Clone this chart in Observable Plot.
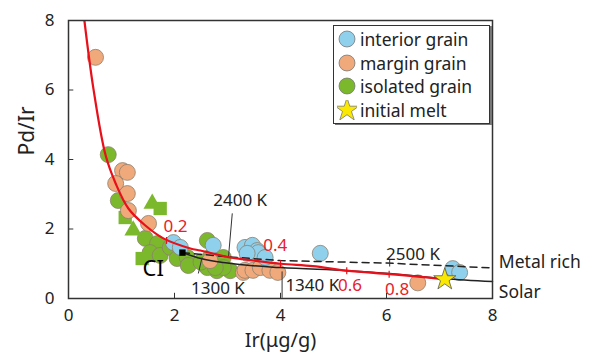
<!DOCTYPE html>
<html>
<head>
<meta charset="utf-8">
<script src="https://cdn.jsdelivr.net/npm/d3@7"></script>
<script src="https://cdn.jsdelivr.net/npm/@observablehq/plot@0.6"></script>
<style>
  html, body { margin: 0; padding: 0; background: #fff; }
  #wrap { position: relative; width: 589px; height: 353px; font-family: "Noto Sans", sans-serif; }
  #legend { position: absolute; left: 333px; top: 25px; width: 155px; height: 97px;
            border: 1.5px solid #333; box-shadow: 2px 1px 0 #777; background: #fff; }
  .row { position: absolute; left: 3px; display: flex; align-items: center; font-size: 17.5px; color: #222; }
  .row svg { margin-right: 3px; }
</style>
</head>
<body>
<div id="wrap"><div id="legend"></div></div>
<script>
// ---- data ----
const xTicks = [0, 2, 4, 6, 8];
const yTicks = [0, 2, 4, 6, 8];

const interiorIr   = [1.98, 2.11, 2.73, 3.33, 3.47, 3.56, 3.58, 3.71, 3.37, 4.75, 7.25, 7.38];
const interiorPdIr = [1.61, 1.47, 1.53, 1.47, 1.53, 1.38, 1.32, 1.18, 1.30, 1.30, 0.86, 0.75];

const marginIr   = [0.51, 1.02, 1.11, 0.89, 1.11, 1.13, 1.51, 2.67, 3.30, 3.33, 3.48, 3.62, 3.80, 3.95, 6.59];
const marginPdIr = [6.94, 3.68, 3.63, 3.31, 3.02, 2.53, 2.16, 1.09, 0.75, 0.81, 0.81, 0.89, 0.81, 0.75, 0.45];

const isolatedIr   = [0.75, 0.94, 1.45, 1.68, 1.54, 1.73, 1.92, 2.05, 2.24, 2.26, 2.62, 2.67, 2.92, 2.80, 3.05, 2.62, 2.92, 2.77, 2.50];
const isolatedPdIr = [4.14, 2.82, 1.73, 1.58, 1.32, 1.24, 1.47, 1.15, 1.18, 0.95, 1.67, 1.18, 1.18, 0.80, 0.80, 0.89, 0.89, 0.89, 1.05];
const isolatedTriIr   = [1.58, 1.22];
const isolatedTriPdIr = [2.73, 1.96];
const isolatedSqIr   = [1.73, 1.07, 1.39];
const isolatedSqPdIr = [2.59, 2.33, 1.15];

const meltIr = [7.1], meltPdIr = [0.55];
const ciIr = [2.15], ciPdIr = [1.32];

const mixIr   = [0.30, 0.47, 0.70, 0.89, 1.13, 1.45, 1.79, 2.30, 2.49, 3.05, 3.24, 4.00, 4.61, 5.25, 6.06, 6.80, 7.10];
const mixPdIr = [8.00, 6.04, 4.12, 3.31, 2.59, 2.10, 1.73, 1.44, 1.38, 1.18, 1.14, 1.00, 0.93, 0.80, 0.70, 0.60, 0.55];

const metalIr   = [2.15, 3.00, 4.00, 6.00, 8.00];
const metalPdIr = [1.32, 1.20, 1.09, 1.02, 0.88];

const solarIr   = [2.15, 2.50, 3.00, 4.00, 5.25, 6.06, 7.10, 8.00];
const solarPdIr = [1.32, 1.15, 1.02, 0.89, 0.80, 0.72, 0.57, 0.49];

const fracLabels = ["0.2", "0.4", "0.6", "0.8"];
const fracIr     = [1.85, 4.00, 5.25, 6.05];
const fracPdIr   = [1.67, 1.00, 0.80, 0.70];
const fracLabIr  = [2.02, 3.90, 5.31, 6.20];
const fracLabPd  = [2.07, 1.53, 0.37, 0.26];

const tempLabels = ["2400 K", "2500 K", "1300 K", "1340 K"];
const tempLabIr  = [3.24, 6.50, 2.82, 4.60];
const tempLabPd  = [2.82, 1.27, 0.29, 0.37];
const leaderIr1 = [3.09, 6.06, 2.45, 4.03], leaderPd1 = [2.45, 0.92, 0.72, 0.78];
const leaderIr2 = [3.02, 6.06, 2.52, 4.03], leaderPd2 = [1.22, 1.14, 1.18, 0.02];

const lineLabels = ["Metal rich", "Solar"];
const lineLabIr  = [8.12, 8.12];
const lineLabPd  = [1.04, 0.17];

const legendLabels = ["interior grain", "margin grain", "isolated grain", "initial melt"];
const colors = {interior: "#8fd0ec", margin: "#f0a97a", isolated: "#7bb82c", melt: "#fbe800"};

// ---- build tables ----
const pts = (xs, ys) => xs.map((x, i) => ({x, y: ys[i]}));
const mix = pts(mixIr, mixPdIr);
const metal = pts(metalIr, metalPdIr);
const solar = pts(solarIr, solarPdIr);
const fracTicks = fracIr.map((x, i) => ({x, y: fracPdIr[i]}));
const fracText = fracLabels.map((t, i) => ({t, x: fracLabIr[i], y: fracLabPd[i]}));
const tempText = tempLabels.map((t, i) => ({t, x: tempLabIr[i], y: tempLabPd[i]}));
const leaders = leaderIr1.map((x, i) => ({x1: x, y1: leaderPd1[i], x2: leaderIr2[i], y2: leaderPd2[i]}));
const lineText = lineLabels.map((t, i) => ({t, x: lineLabIr[i], y: lineLabPd[i]}));

const ptStroke = "#8c8070";
const font = "Noto Sans, sans-serif";

const chart = Plot.plot({
  width: 589, height: 353,
  marginLeft: 68, marginRight: 97, marginTop: 20, marginBottom: 55,
  style: {fontFamily: font, fontSize: "17px", color: "#222", background: "transparent", overflow: "visible"},
  x: {domain: [0, 8]},
  y: {domain: [0, 8]},
  marks: [
    Plot.ruleY(yTicks.slice(1, -1), {x1: 0, x2: 0.1, stroke: "#333"}),
    Plot.ruleX(xTicks.slice(1, -1), {y1: 0, y2: 0.15, stroke: "#333"}),
    Plot.axisX(xTicks, {tickSize: 0, tickPadding: 10, label: null, fontSize: 17}),
    Plot.axisY(yTicks, {tickSize: 0, tickPadding: 14, label: null, fontSize: 17}),
    Plot.text(["Ir(μg/g)"], {frameAnchor: "bottom", dy: 48, fontSize: 20, fill: "#222"}),
    Plot.text(["Pd/Ir"], {frameAnchor: "left", rotate: -90, dx: -41, dy: -4, fontSize: 21, fill: "#222"}),
    // points
    Plot.dot(pts(isolatedIr, isolatedPdIr), {x: "x", y: "y", r: 8, fill: colors.isolated, stroke: ptStroke, strokeWidth: 0.8}),
    Plot.dot(pts(isolatedTriIr, isolatedTriPdIr), {x: "x", y: "y", r: 6.5, symbol: "triangle", fill: colors.isolated, stroke: "none"}),
    Plot.dot(pts(isolatedSqIr, isolatedSqPdIr), {x: "x", y: "y", r: 7.5, symbol: "square", fill: colors.isolated, stroke: "none"}),
    Plot.dot(pts(marginIr, marginPdIr), {x: "x", y: "y", r: 8, fill: colors.margin, stroke: ptStroke, strokeWidth: 0.8}),
    Plot.dot(pts(interiorIr, interiorPdIr), {x: "x", y: "y", r: 8, fill: colors.interior, stroke: ptStroke, strokeWidth: 0.8}),
    // model lines
    Plot.line(metal, {x: "x", y: "y", stroke: "#222", strokeWidth: 1.5, strokeDasharray: "7,5"}),
    Plot.line(solar, {x: "x", y: "y", stroke: "#222", strokeWidth: 1.5, curve: "monotone-x"}),
    Plot.line(mix, {x: "x", y: "y", stroke: "#e8101a", strokeWidth: 2.2, curve: "catmull-rom", clip: true}),
    Plot.link(leaders, {x1: "x1", y1: "y1", x2: "x2", y2: "y2", stroke: "#333", strokeWidth: 1}),
    Plot.link(fracTicks, {x1: "x", x2: "x", y1: d => d.y - 0.1, y2: d => d.y + 0.1, stroke: "#e8101a", strokeWidth: 1.2}),
    Plot.dot(pts(ciIr, ciPdIr), {x: "x", y: "y", r: 3.6, symbol: "square", fill: "#000"}),
    Plot.dot(pts(meltIr, meltPdIr), {x: "x", y: "y", r: 7, symbol: "star", fill: colors.melt, stroke: "#555", strokeWidth: 0.8}),
    // annotations
    Plot.text(fracText, {x: "x", y: "y", text: "t", fill: "#e8202a", fontSize: 17}),
    Plot.text(tempText, {x: "x", y: "y", text: "t", fill: "#222", fontSize: 17}),
    Plot.text(["CI"], {x: [1.6], y: [0.86], fontSize: 22, fill: "#000"}),
    Plot.text(lineText, {x: "x", y: "y", text: "t", textAnchor: "start", fill: "#222", fontSize: 17.5}),
    Plot.frame({stroke: "#333", strokeWidth: 1.5})
  ]
});
document.getElementById("wrap").prepend(chart);

// legend (inside the plot area, as in the reference)
const legend = document.getElementById("legend");
const symbols = [
  {fill: colors.interior, type: d3.symbolCircle, size: 200},
  {fill: colors.margin, type: d3.symbolCircle, size: 200},
  {fill: colors.isolated, type: d3.symbolCircle, size: 200},
  {fill: colors.melt, type: d3.symbolStar, size: 170}
];
legendLabels.forEach((label, i) => {
  const row = document.createElement("div");
  row.className = "row";
  row.style.top = (1 + i * 23.5) + "px";
  const s = symbols[i];
  row.innerHTML = `<svg width="20" height="20" viewBox="-10 -10 20 20"><path d="${d3.symbol(s.type, s.size)()}" fill="${s.fill}" stroke="#777" stroke-width="0.8"/></svg><span>${label}</span>`;
  legend.appendChild(row);
});
</script>
</body>
</html>
